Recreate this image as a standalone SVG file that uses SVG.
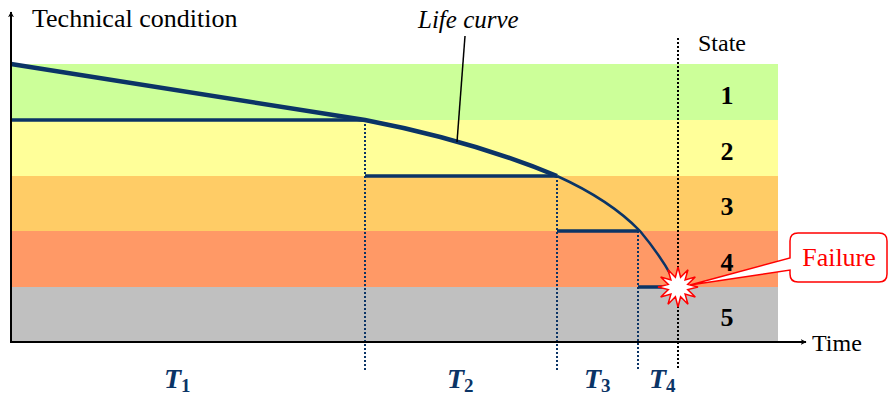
<svg xmlns="http://www.w3.org/2000/svg" width="889" height="397" viewBox="0 0 889 397">
<defs>
<style>
.t{font-family:"Liberation Serif","DejaVu Serif","Times New Roman",serif;fill:#000}
.num{font-size:26px;font-weight:bold;text-anchor:middle}
.T{font-family:"Liberation Serif","DejaVu Serif","Times New Roman",serif;font-size:28px;font-weight:bold;font-style:italic;fill:#0B3466}
.sub{font-size:19px;font-style:normal}
.step{stroke:#0B3466;stroke-width:3.5;fill:none}
.dot{stroke:#0B3466;stroke-width:2;stroke-dasharray:2 2;fill:none}
.axis{stroke:#000;stroke-width:2;fill:none}
</style>
<marker id="ah" viewBox="0 0 10 10" refX="9" refY="5" markerWidth="6" markerHeight="6" orient="auto-start-reverse" markerUnits="userSpaceOnUse">
<path d="M0,0 L10,5 L0,10 L3,5 Z" fill="#000"/>
</marker>
</defs>
<g id="bands">
<rect x="11" y="64" width="767" height="56" fill="#CCFF99"/>
<rect x="11" y="120" width="767" height="56" fill="#FFFF99"/>
<rect x="11" y="176" width="767" height="55" fill="#FFCC66"/>
<rect x="11" y="231" width="767" height="56" fill="#FF9966"/>
<rect x="11" y="287" width="767" height="55" fill="#C0C0C0"/>
</g>
<g id="connectors">
<line class="dot" x1="365" y1="120" x2="365" y2="370"/>
<line class="dot" x1="557" y1="176" x2="557" y2="370"/>
<line class="dot" x1="638" y1="231" x2="638" y2="370"/>
<line x1="678" y1="38" x2="678" y2="370" stroke="#000" stroke-width="2" stroke-dasharray="2 2"/>
<line class="step" x1="11" y1="120" x2="365" y2="120"/>
<line class="step" x1="365" y1="176" x2="557" y2="176"/>
<line class="step" x1="557" y1="231" x2="638" y2="231"/>
<line class="step" x1="638" y1="287" x2="670" y2="287"/>
<path d="M11,64 L365,120 Q470,140 557,176" stroke="#0B3466" stroke-width="4.5" fill="none"/>
<path d="M557,176 Q610,200 640,231 Q660,255 672,277" stroke="#0B3466" stroke-width="2.5" fill="none"/>
<line x1="465" y1="36" x2="457" y2="142" stroke="#000" stroke-width="1.5"/>
<line class="axis" x1="11" y1="343" x2="11" y2="12" marker-end="url(#ah)"/>
<line class="axis" x1="11" y1="342" x2="806" y2="342" marker-end="url(#ah)"/>
</g>
<g id="axis-labels">
<text class="t" x="32" y="27" font-size="26">Technical condition</text>
<text class="t" x="812" y="351" font-size="24">Time</text>
<text class="t" x="698" y="51" font-size="24">State</text>
<text class="t" x="418" y="28" font-size="25" font-style="italic">Life curve</text>
</g>
<g id="states">
<text class="t num" x="727" y="104">1</text>
<text class="t num" x="727" y="160">2</text>
<text class="t num" x="727" y="215">3</text>
<text class="t num" x="727" y="271">4</text>
<text class="t num" x="727" y="326">5</text>
</g>
<g id="durations">
<text class="T" x="164" y="388">T<tspan class="sub" dy="4">1</tspan></text>
<text class="T" x="447" y="388">T<tspan class="sub" dy="4">2</tspan></text>
<text class="T" x="584" y="388">T<tspan class="sub" dy="4">3</tspan></text>
<text class="T" x="649" y="388">T<tspan class="sub" dy="4">4</tspan></text>
</g>
<g id="failure">
<path d="M798,233 H879 Q887,233 887,241 V274 Q887,282 879,282 H798 Q790,282 790,274 V270 L690,285 L790,258 V241 Q790,233 798,233 Z" fill="#fff" stroke="#FF0000" stroke-width="1.5"/>
<text x="839" y="266" font-family="'Liberation Serif','DejaVu Serif',serif" font-size="26" fill="#FF0000" text-anchor="middle">Failure</text>
<polygon points="698,287 687.7,289.6 695.3,297 685.1,294.1 688,304.3 680.6,296.7 678,307 675.4,296.7 668,304.3 670.9,294.1 660.7,297 668.3,289.6 658,287 668.3,284.4 660.7,277 670.9,279.9 668,269.7 675.4,277.3 678,267 680.6,277.3 688,269.7 685.1,279.9 695.3,277 687.7,284.4" fill="#fff" stroke="#FF0000" stroke-width="1.5"/>
</g>
</svg>
